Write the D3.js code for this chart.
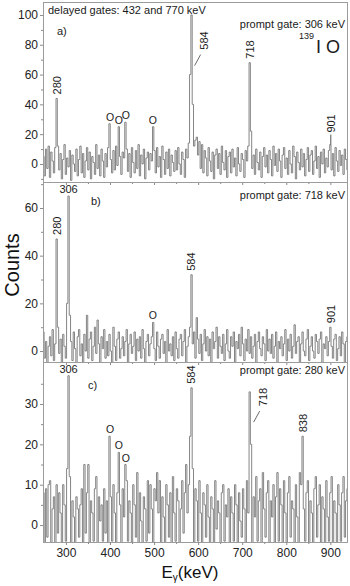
<!DOCTYPE html>
<html lang="en">
<head>
<meta charset="utf-8">
<title>139I gated spectra</title>
<script src="https://cdnjs.cloudflare.com/ajax/libs/d3/7.8.5/d3.min.js"></script>
<style>
  html, body { margin: 0; padding: 0; background: #fff; }
  svg { display: block; font-family: "Liberation Sans", Arial, sans-serif; }
  .frame { fill: none; stroke: #9c9c9c; stroke-width: 1; }
  .spec { fill: none; stroke: #777; stroke-width: 0.9; }
  .tick line { stroke: #8a8a8a; }
  .tick text { fill: #222; font-size: 12px; }
  .note { fill: #1a1a1a; font-size: 11px; }
</style>
</head>
<body>
<svg id="chart" width="350" height="586"></svg>
<script>
// energy calibration of the bins (keV)
const binStart = 249;
const binWidth = 3;

// a) delayed gates 432 and 770 keV, prompt gate 306 keV
const countsA = [
  5, -8, 10, -3, 12, -9, 8, 2, -6, 11, 44, 12, -4, 7, -10, 3, 13, -7, 4, -2,
  9, -11, 6, 0, -5, 10, -8, 3, 12, -6, 7, -9, 2, 11, -4, 8, -10, 5, 1, -7,
  13, -3, 6, -8, 10, 2, -9, 7, -2, 11, 27, 3, -6, 9, -4, 12, -1, 25, 5, -7,
  8, 4, 28, 10, -5, 7, -9, 11, 1, -6, 9, -3, 13, -8, 6, 0, 10, -10, 4, 8,
  -4, 7, 2, 25, 9, -6, 11, -2, 5, -9, 12, 3, -7, 8, -3, 10, -8, 6, 1, -5,
  9, -4, 11, 0, -7, 8, 3, -9, 10, 4, 14, 60, 100, 40, 12, 16, 18, 6, 15, -3,
  13, -6, 9, 4, -8, 11, 2, -5, 8, -10, 6, 10, -3, 7, -7, 12, 1, -4, 9, -9,
  5, 8, -6, 10, -2, 4, -8, 11, 0, -5, 7, 3, -9, 9, 2, 12, 68, 22, -3, 6,
  -7, 10, 1, -4, 8, -9, 5, 11, -2, 6, -6, 9, 3, -8, 12, -1, 7, -5, 10, 2,
  -9, 6, 11, -3, 4, -7, 9, 0, -6, 12, 5, -10, 8, 1, -4, 10, -2, 7, -8, 3,
  11, -5, 6, 9, -7, 2, 12, -3, 5, -9, 8, 0, 10, -6, 4, -2, 9, 13, -4, 7,
  -8, 11, 2, -5, 9, -1, 6, -7, 10, 3, -4
];

// b) prompt gate 718 keV
const countsB = [
  8, -3, 4, -5, 2, 6, -2, 9, -4, 3, 47, 10, -1, 5, -5, 7, 2, -3, 20, 65,
  15, 4, -4, 8, 1, -5, 6, 9, -2, 3, -6, 7, 0, 15, -3, 5, 8, -4, 2, 10,
  -1, 13, 3, -5, 6, 1, 9, -3, 4, -2, 7, 0, -6, 10, 2, -4, 5, 8, -3, 1,
  6, -2, 4, 9, -5, 3, 7, -1, 2, 8, -4, 5, 0, 6, -3, 9, 1, -5, 4, 7,
  -2, 3, 6, 12, 1, -4, 8, 2, -3, 5, 7, -1, 4, -5, 9, 0, 3, -2, 6, -4,
  8, 1, -3, 5, 7, -2, 4, 9, -5, 2, 6, 10, 32, 3, 8, -3, 14, 5, -1, 7,
  -4, 3, 9, 0, 6, -2, 5, -5, 8, 1, 4, 10, -3, 6, 2, -1, 7, -4, 3, 9,
  0, -3, 6, 2, 8, -5, 4, 1, 7, -2, 10, 3, -4, 5, 0, 9, -1, 6, -3, 2,
  7, -5, 4, 8, 1, -2, 6, 3, -4, 9, 0, 5, -1, 7, -3, 2, 8, -5, 4, 1,
  6, -2, 3, 9, -4, 5, 0, 7, -3, 2, 11, -1, 4, 6, -5, 3, 8, 0, -2, 5,
  9, -4, 2, 6, 0, -3, 7, 4, -1, 5, 8, -5, 3, 1, 6, -2, 4, 10, 2, -3,
  5, 7, -4, 1, 6, -2, 8, 3, -5, 4, 6
];

// c) prompt gate 280 keV
const countsC = [
  8, -5, 9, -3, 10, 11, -6, 4, 7, -5, 10, -2, 8, 3, -6, 10, 5, -4, 14, 37,
  12, -5, 6, 2, -6, 7, 4, -3, 5, 9, -6, 15, -2, 8, 15, -5, 6, 3, -4, 9,
  12, -6, 7, 1, 5, -4, 9, -2, 6, -5, 22, 7, -4, 10, 3, -6, 8, 18, 5, -5,
  9, 2, 15, 11, -4, 6, 3, -6, 10, 5, -3, 13, -5, 8, 1, -6, 7, 4, -4, 11,
  -2, 10, 4, -6, 9, 6, 13, 3, 11, -5, 7, 2, -6, 10, 5, -3, 8, -5, 12, 3,
  -4, 9, 6, -6, 4, 11, -2, 8, 15, 3, 10, 22, 34, 14, -5, 9, 6, -4, 11, 3,
  -6, 8, 5, -3, 10, 2, -5, 7, 4, -6, 11, -1, 6, 3, -5, 8, 10, -4, 5, 2,
  9, -6, 7, 3, -4, 10, 5, -5, 8, 1, -3, 9, 4, -6, 11, 3, 33, 20, -5, 7,
  2, 12, -4, 6, 9, -6, 13, 4, -3, 8, 11, -5, 6, 2, 10, -6, 7, 13, -4, 9,
  5, -5, 11, 3, -6, 8, 12, -3, 6, 4, -5, 10, 2, -6, 13, 10, 22, 4, -4, 8,
  11, -5, 6, 3, -6, 9, 12, -3, 5, 10, -5, 7, 4, -6, 11, 2, -4, 8, 12, -5,
  6, 3, -6, 10, 5, -4, 8, 12, -3, 6, 9
];

const xTicks = [300, 400, 500, 600, 700, 800, 900];
const xMinor = [250, 350, 450, 550, 650, 750, 850];

// peak annotations: energy, text, kind of marker
const notesA = [
  { e: 280, text: "280", kind: "vert" },
  { e: 400, text: "O", kind: "circle" },
  { e: 420, text: "O", kind: "circle" },
  { e: 436, text: "O", kind: "circle" },
  { e: 497, text: "O", kind: "circle" },
  { e: 584, text: "584", kind: "leader", at: 66 },
  { e: 718, text: "718", kind: "vert" },
  { e: 901, text: "901", kind: "stem" }
];
const notesB = [
  { e: 280, text: "280", kind: "vert" },
  { e: 306, text: "306", kind: "horiz" },
  { e: 497, text: "O", kind: "circle" },
  { e: 584, text: "584", kind: "vert" },
  { e: 901, text: "901", kind: "vert" }
];
const notesC = [
  { e: 306, text: "306", kind: "horiz" },
  { e: 400, text: "O", kind: "circle" },
  { e: 420, text: "O", kind: "circle" },
  { e: 436, text: "O", kind: "circle" },
  { e: 584, text: "584", kind: "vert" },
  { e: 718, text: "718", kind: "leader", at: 25.5 },
  { e: 838, text: "838", kind: "vert" }
];

const panels = [
  { counts: countsA, notes: notesA, top: 2, bottom: 182, domain: [-12.1, 108.7],
    major: [0, 20, 40, 60, 80, 100], minor: [-10, 10, 30, 50, 70, 90],
    tag: "a)", tagPos: [57, 35], gate: "prompt gate: 306 keV", gateY: 28 },
  { counts: countsB, notes: notesB, top: 182, bottom: 362, domain: [-4.6, 70.9],
    major: [0, 20, 40, 60], minor: [10, 30, 50, 70],
    tag: "b)", tagPos: [91, 205], gate: "prompt gate: 718 keV", gateY: 199 },
  { counts: countsC, notes: notesC, top: 362, bottom: 542, domain: [-4.2, 40.4],
    major: [0, 10, 20, 30], minor: [5, 15, 25, 35],
    tag: "c)", tagPos: [88, 389], gate: "prompt gate: 280 keV", gateY: 374 }
];

const svg = d3.select('#chart');
const x = d3.scaleLinear().domain([248, 940]).range([43, 348]);
const [x0, x1] = x.range();

panels.forEach((p, k) => {
  const y = d3.scaleLinear().domain(p.domain).range([p.bottom, p.top]);
  const g = svg.append('g');

  g.append('clipPath').attr('id', 'clip' + k)
    .append('rect')
    .attr('x', x0).attr('y', p.top)
    .attr('width', x1 - x0).attr('height', p.bottom - p.top);

  const line = d3.line()
    .x((d, i) => x(binStart + i * binWidth))
    .y(d => y(d))
    .curve(d3.curveStep);

  g.append('path')
    .datum(p.counts)
    .attr('class', 'spec')
    .attr('clip-path', `url(#clip${k})`)
    .attr('d', line);

  g.append('rect')
    .attr('class', 'frame')
    .attr('x', x0 + 0.5).attr('y', p.top + 0.5)
    .attr('width', x1 - x0 - 1).attr('height', p.bottom - p.top);

  // y axis, major and minor ticks
  const yAx = g.append('g').attr('transform', `translate(${x0},0)`)
    .call(d3.axisLeft(y).tickValues(p.major).tickSize(3).tickPadding(2));
  yAx.select('.domain').remove();
  const yMin = g.append('g').attr('transform', `translate(${x0},0)`)
    .call(d3.axisLeft(y).tickValues(p.minor.filter(v => v > p.domain[0] && v < p.domain[1]))
      .tickSize(2).tickFormat(''));
  yMin.select('.domain').remove();

  // x axis ticks at the bottom of each panel, labels only on the last
  const xAx = g.append('g').attr('transform', `translate(0,${p.bottom})`)
    .call(d3.axisBottom(x).tickValues(xTicks).tickSize(3).tickPadding(3)
      .tickFormat(k === 2 ? d3.format('d') : ''));
  xAx.select('.domain').remove();
  const xMin = g.append('g').attr('transform', `translate(0,${p.bottom})`)
    .call(d3.axisBottom(x).tickValues(xMinor.filter(v => x(v) > x0 + 1)).tickSize(2).tickFormat(''));
  xMin.select('.domain').remove();

  // panel texts
  g.append('text').attr('class', 'note')
    .attr('x', p.tagPos[0]).attr('y', p.tagPos[1]).text(p.tag);
  g.append('text').attr('class', 'note')
    .attr('x', 345).attr('y', p.gateY)
    .attr('text-anchor', 'end').text(p.gate);

  // peak labels
  p.notes.forEach(n => {
    const px = x(n.e);
    const v = p.counts[Math.round((n.e - binStart) / binWidth)];
    const py = y(v);
    if (n.kind === 'vert' || n.kind === 'stem') {
      let y0 = py - 4;
      if (n.kind === 'stem') {
        g.append('line').attr('x1', px).attr('x2', px)
          .attr('y1', py).attr('y2', py - 10)
          .attr('stroke', '#555').attr('stroke-width', 1);
        y0 = py - 12;
      }
      g.append('text').attr('class', 'note')
        .attr('x', px).attr('y', y0)
        .attr('dominant-baseline', 'central')
        .attr('transform', `rotate(-90,${px},${y0})`)
        .text(n.text);
    } else if (n.kind === 'leader') {
      const ya = y(n.at);
      g.append('line')
        .attr('x1', px + 3.5).attr('y1', ya)
        .attr('x2', px + 9.5).attr('y2', ya - 11)
        .attr('stroke', '#444').attr('stroke-width', 0.8);
      const lx = px + 12.5, ly = ya - 16;
      g.append('text').attr('class', 'note')
        .attr('x', lx).attr('y', ly)
        .attr('dominant-baseline', 'central')
        .attr('transform', `rotate(-90,${lx},${ly})`)
        .text(n.text);
    } else if (n.kind === 'horiz') {
      g.append('text').attr('class', 'note')
        .attr('x', px).attr('y', py - 3)
        .attr('text-anchor', 'middle').text(n.text);
    } else {
      g.append('text').attr('class', 'note')
        .attr('x', px).attr('y', py - 7)
        .attr('text-anchor', 'middle')
        .attr('dominant-baseline', 'central')
        .style('font-size', '10.5px')
        .text(n.text);
    }
  });
});

// header of panel a
svg.append('text').attr('class', 'note')
  .attr('x', 48).attr('y', 14)
  .text('delayed gates: 432 and 770 keV');
svg.append('text').attr('class', 'note')
  .attr('x', 299).attr('y', 39).style('font-size', '9px').text('139');
svg.append('text').attr('class', 'note')
  .attr('x', 316).attr('y', 53).style('font-size', '18px').text('I O');

// axis titles
svg.append('text')
  .attr('transform', 'translate(12,265) rotate(-90)')
  .attr('text-anchor', 'middle')
  .attr('dominant-baseline', 'central')
  .style('font-size', '20px').attr('fill', '#111')
  .text('Counts');

const xt = svg.append('text')
  .attr('x', 190).attr('y', 578)
  .attr('text-anchor', 'middle')
  .style('font-size', '17px').attr('fill', '#111');
xt.append('tspan').text('E');
xt.append('tspan').attr('dy', 3).style('font-size', '10px').text('γ');
xt.append('tspan').attr('dy', -3).text('(keV)');
</script>
</body>
</html>
